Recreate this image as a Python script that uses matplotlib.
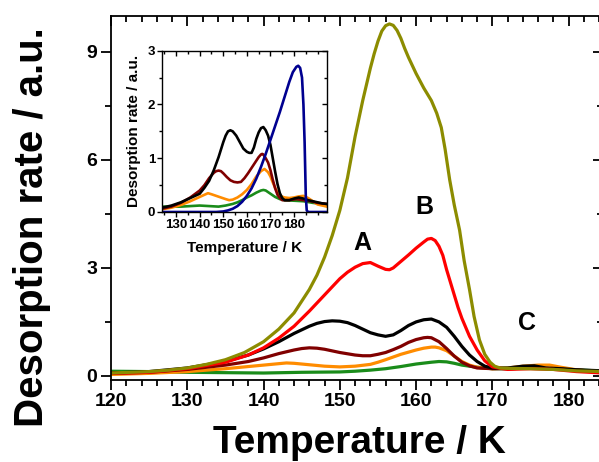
"""TPD spectra: desorption rate vs temperature, with an inset of the low-coverage traces."""

import matplotlib
matplotlib.use("Agg")
import matplotlib.pyplot as plt
from matplotlib.ticker import MultipleLocator, FixedLocator

plt.rcParams["font.family"] = ["Liberation Sans", "DejaVu Sans"]
plt.rcParams["font.weight"] = "bold"

# ---- main panel data (T in K, rate in a.u.) ----
olive_T = [120, 122.5, 125, 127.5, 130, 132.5, 135, 137.5, 140, 142, 144, 146, 147, 148, 149, 150, 151, 152, 153,
           154, 154.5, 155, 155.5, 156, 156.5, 157, 157.5, 158, 158.5, 159, 160, 161, 162, 162.7, 163.3, 163.8,
           164.4, 165, 165.7, 166.3, 167, 167.6, 168.3, 169, 169.7, 170.3, 171, 172, 175, 178, 181, 184.5]
olive_v = [0.08, 0.1, 0.12, 0.16, 0.22, 0.32, 0.45, 0.65, 0.95, 1.3, 1.75, 2.4, 2.8, 3.3, 3.9, 4.6, 5.5, 6.65, 7.65,
           8.55, 8.95, 9.3, 9.58, 9.73, 9.78, 9.74, 9.6, 9.38, 9.1, 8.85, 8.4, 8.0, 7.65, 7.3, 6.9, 6.3,
           5.45, 4.75, 4.05, 3.2, 2.4, 1.65, 1.0, 0.6, 0.38, 0.27, 0.22, 0.21, 0.2, 0.18, 0.14, 0.12]

red_T = [120, 125, 130, 135, 138, 140, 142, 144, 146, 148, 150, 151, 152, 153, 154, 155, 156, 156.5, 157, 158,
         159, 160, 161, 161.5, 162, 162.5, 163, 163.5, 164, 164.5, 165, 165.5, 166, 167, 168, 169, 170, 172,
         175, 178, 181, 184.5]
red_v = [0.07, 0.1, 0.2, 0.38, 0.58, 0.78, 1.05, 1.38, 1.8, 2.25, 2.7, 2.88, 3.02, 3.12, 3.15, 3.05, 2.96, 2.95, 3.0, 3.18,
         3.36, 3.55, 3.72, 3.8, 3.82, 3.76, 3.6, 3.35, 2.95, 2.6, 2.25, 1.9, 1.6, 1.1, 0.72, 0.42, 0.25, 0.18,
         0.2, 0.18, 0.12, 0.08]

black_T = [120, 125, 130, 135, 138, 140, 142, 144, 146, 147, 148, 149, 150, 151, 152, 153, 154, 155, 156, 157,
           158, 159, 160, 161, 162, 163, 164, 165, 166, 167, 168, 169, 170, 172, 174, 175.5, 177, 179, 181, 184.5]
black_v = [0.08, 0.12, 0.22, 0.4, 0.58, 0.75, 0.95, 1.18, 1.38, 1.46, 1.51, 1.53, 1.52, 1.48, 1.4, 1.3, 1.2, 1.14, 1.1, 1.14,
           1.26, 1.4, 1.5, 1.56, 1.58, 1.5, 1.35, 1.1, 0.82, 0.58, 0.4, 0.27, 0.22, 0.22, 0.27, 0.28, 0.22, 0.2, 0.17, 0.14]

brown_T = [120, 125, 130, 135, 138, 140, 142, 144, 145, 146, 147, 148, 150, 152, 153, 154, 155, 156, 157, 158,
           159, 160, 161, 161.5, 162, 163, 164, 165, 166, 167, 168, 170, 172, 175, 178, 181, 184.5]
brown_v = [0.07, 0.1, 0.18, 0.3, 0.4, 0.5, 0.62, 0.72, 0.76, 0.78, 0.77, 0.74, 0.65, 0.58, 0.56, 0.56, 0.6, 0.65, 0.73, 0.82,
           0.93, 1.01, 1.06, 1.07, 1.06, 0.95, 0.76, 0.55, 0.38, 0.28, 0.22, 0.2, 0.2, 0.22, 0.2, 0.16, 0.12]

orange_T = [120, 125, 130, 135, 138, 140, 142, 143, 144, 146, 148, 150, 152, 154, 155, 156, 158, 160, 161, 162,
            162.5, 163, 164, 165, 166, 167, 168, 170, 172, 174, 176, 177.5, 179, 181, 184.5]
orange_v = [0.04, 0.07, 0.12, 0.2, 0.26, 0.3, 0.34, 0.36, 0.35, 0.31, 0.27, 0.25, 0.27, 0.32, 0.38, 0.45, 0.6, 0.72, 0.77, 0.8,
            0.8, 0.78, 0.7, 0.55, 0.4, 0.3, 0.24, 0.2, 0.22, 0.27, 0.3, 0.3, 0.24, 0.17, 0.1]

green_T = [120, 125, 130, 135, 140, 145, 150, 152, 154, 156, 158, 160, 162, 163, 164, 165, 166, 168, 170, 172,
           175, 178, 181, 184.5]
green_v = [0.13, 0.12, 0.1, 0.09, 0.08, 0.1, 0.11, 0.13, 0.16, 0.2, 0.26, 0.33, 0.38, 0.4, 0.39, 0.35, 0.3, 0.24, 0.2, 0.2,
           0.22, 0.2, 0.17, 0.13]

# ---- inset data ----
in_black_T = [124, 128, 132, 136, 140, 142, 144, 146, 148, 150, 151, 152, 153, 154, 155.5, 157, 158.5, 160, 161, 162,
              163, 164, 165, 166, 167, 168, 169, 170, 171, 172, 173, 174, 175, 176, 178, 180, 182, 184, 186, 188, 190, 192, 194]
in_black_v = [0.08, 0.12, 0.18, 0.26, 0.34, 0.45, 0.58, 0.78, 1.02, 1.3, 1.42, 1.5, 1.52, 1.5, 1.42, 1.3, 1.18, 1.12, 1.1, 1.1,
              1.2, 1.36, 1.48, 1.56, 1.58, 1.52, 1.42, 1.25, 1.0, 0.75, 0.52, 0.35, 0.26, 0.22, 0.22, 0.25, 0.27, 0.25, 0.22, 0.2, 0.18, 0.16, 0.15]

in_brown_T = [124, 128, 132, 136, 140, 142, 144, 146, 147, 148, 149, 150, 151.5, 153, 154.5, 156, 157.5, 159, 160.5, 162,
              163.5, 165, 166, 166.5, 167, 168, 169, 170, 171, 172, 173, 174, 175, 178, 181, 184, 187, 190, 194]
in_brown_v = [0.06, 0.1, 0.17, 0.27, 0.4, 0.5, 0.63, 0.73, 0.76, 0.77, 0.76, 0.72, 0.65, 0.59, 0.56, 0.55, 0.56, 0.63, 0.72, 0.82,
              0.92, 1.02, 1.07, 1.08, 1.07, 1.0, 0.92, 0.78, 0.6, 0.44, 0.32, 0.26, 0.22, 0.22, 0.24, 0.22, 0.2, 0.17, 0.15]

in_orange_T = [124, 128, 132, 136, 138, 140, 142, 143.5, 145, 147, 149, 151, 152.5, 154, 156, 158, 160, 162, 164, 166,
               167.5, 169, 170, 171, 172, 173, 174, 176, 178, 180, 182, 184, 186, 188, 190, 194]
in_orange_v = [0.05, 0.08, 0.13, 0.2, 0.24, 0.28, 0.32, 0.35, 0.33, 0.3, 0.27, 0.24, 0.22, 0.23, 0.27, 0.33, 0.41, 0.52, 0.66, 0.76,
               0.8, 0.74, 0.66, 0.55, 0.45, 0.36, 0.3, 0.27, 0.26, 0.27, 0.29, 0.3, 0.26, 0.2, 0.14, 0.1]

in_green_T = [124, 128, 132, 136, 140, 144, 148, 151, 154, 156, 158, 160, 162, 164, 166, 167, 168, 170, 172, 174,
              176, 180, 184, 188, 194]
in_green_v = [0.1, 0.1, 0.1, 0.11, 0.12, 0.11, 0.1, 0.12, 0.15, 0.18, 0.22, 0.27, 0.31, 0.36, 0.4, 0.41, 0.4, 0.34, 0.28, 0.24,
              0.22, 0.21, 0.2, 0.17, 0.14]

in_blue_T = [124, 140, 147, 150, 152, 154, 156, 158, 160, 162, 164, 166, 168, 170, 172, 174, 176, 178, 179.5, 181,
             181.8, 182.6, 183.4, 184, 184.5, 185, 185.4, 186, 194]
in_blue_v = [0.0, 0.0, 0.0, 0.01, 0.03, 0.06, 0.11, 0.19, 0.3, 0.44, 0.62, 0.84, 1.08, 1.34, 1.6, 1.86, 2.14, 2.42, 2.6, 2.7,
             2.72, 2.68, 2.5, 2.0, 1.3, 0.3, 0.03, 0.0, 0.0]
in_xticks = [130, 140, 150, 160, 170, 180]

OLIVE, RED, BROWN, ORANGE, GREEN, NAVY = "#8c8c00", "#ff0000", "#800000", "#ff8c00", "#1a8c1a", "#000090"


def style_axes(ax, major_len, minor_len, width):
    for s in ax.spines.values():
        s.set_linewidth(width)
    ax.tick_params(which="both", top=True, right=True, width=width, direction="out")
    ax.tick_params(which="major", length=major_len)
    ax.tick_params(which="minor", length=minor_len)
    # left/bottom ticks stick out, top/right ones point into the frame
    for t in ax.xaxis.get_major_ticks() + ax.xaxis.get_minor_ticks():
        t.tick2line.set_marker(3)
    for t in ax.yaxis.get_major_ticks() + ax.yaxis.get_minor_ticks():
        t.tick2line.set_marker(0)


fig = plt.figure(figsize=(5.99, 4.62), dpi=100)
ax = fig.add_axes([111 / 599, 1 - 379.5 / 462, 492 / 599, 363.5 / 462])

lw = 2.3
ax.plot(green_T, green_v, color=GREEN, lw=lw)
ax.plot(orange_T, orange_v, color=ORANGE, lw=lw)
ax.plot(brown_T, brown_v, color=BROWN, lw=lw)
ax.plot(black_T, black_v, color="black", lw=lw)
ax.plot(red_T, red_v, color=RED, lw=lw)
ax.plot(olive_T, olive_v, color=OLIVE, lw=lw)

ax.set_xlim(120, 184.5)
ax.set_ylim(-0.1, 10.0)
ax.xaxis.set_major_locator(MultipleLocator(10))
ax.xaxis.set_minor_locator(MultipleLocator(2))
ax.yaxis.set_major_locator(MultipleLocator(3))
ax.yaxis.set_minor_locator(MultipleLocator(1.5))
ax.tick_params(labelsize=14, pad=3)
style_axes(ax, 7, 4, 1.3)

fig.text(359 / 599, 1 - 453 / 462, "Temperature / K", fontsize=28, fontweight="bold",
         ha="center", va="baseline")
fig.text(43.5 / 599, 1 - 227 / 462, "Desorption rate / a.u.", fontsize=29, fontweight="bold",
         rotation=90, rotation_mode="anchor", ha="center", va="baseline")

ax.text(152.9, 3.7, "A", fontsize=18, fontweight="bold", ha="center", va="center")
ax.text(161.1, 4.7, "B", fontsize=18, fontweight="bold", ha="center", va="center")
ax.text(174.5, 1.48, "C", fontsize=18, fontweight="bold", ha="center", va="center")

# ---- inset ----
ins = fig.add_axes([162 / 599, 1 - 212 / 462, 165 / 599, 161.3 / 462])
ins.set_facecolor("white")
ilw = 1.9
ins.plot(in_green_T, in_green_v, color=GREEN, lw=ilw)
ins.plot(in_orange_T, in_orange_v, color=ORANGE, lw=ilw)
ins.plot(in_brown_T, in_brown_v, color=BROWN, lw=ilw)
ins.plot(in_black_T, in_black_v, color="black", lw=ilw)
ins.plot(in_blue_T, in_blue_v, color=NAVY, lw=ilw)
ins.set_xlim(124, 194)
ins.set_ylim(0, 3)
ins.xaxis.set_major_locator(FixedLocator(in_xticks))
ins.xaxis.set_minor_locator(MultipleLocator(5))
ins.yaxis.set_major_locator(MultipleLocator(1))
ins.yaxis.set_minor_locator(MultipleLocator(0.5))
ins.tick_params(labelsize=9.5, pad=1.5)
style_axes(ins, 3.5, 2.2, 1.0)
ins.set_xlabel("Temperature / K", fontsize=11, fontweight="bold", labelpad=7)
ins.set_ylabel("Desorption rate / a.u.", fontsize=11, fontweight="bold", labelpad=5)

fig.savefig("out.png", dpi=100)
